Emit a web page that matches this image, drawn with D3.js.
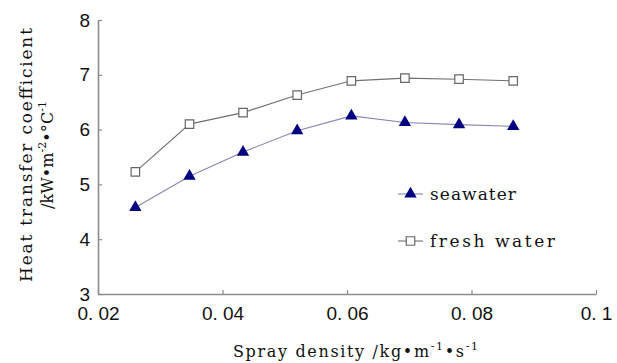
<!DOCTYPE html>
<html>
<head>
<meta charset="utf-8">
<script src="https://cdn.jsdelivr.net/npm/d3@7"></script>
<style>
  body { margin: 0; background: #fff; }
  svg { display: block; }
</style>
</head>
<body>
<div id="chart"></div>
<script>
// spray density (kg/(m.s)) and heat transfer coefficient (kW/(m2.C))
const density = [0.026, 0.0347, 0.0433, 0.052, 0.0607, 0.0693, 0.078, 0.0867];
const seawater = [4.58, 5.15, 5.59, 5.98, 6.25, 6.13, 6.09, 6.06];
const freshWater = [5.23, 6.10, 6.31, 6.63, 6.89, 6.94, 6.92, 6.89];
const xTicks = [0.02, 0.04, 0.06, 0.08, 0.1];
const xTickLabels = ["0. 02", "0. 04", "0. 06", "0. 08", "0. 1"];
const yTicks = [3, 4, 5, 6, 7, 8];

var W = 617, H = 363;
var margin = {top: 20, right: 21, bottom: 69, left: 98},
    width = W - margin.left - margin.right,
    height = H - margin.top - margin.bottom;

var titleFont = "'DejaVu Serif', 'Liberation Serif', serif";
var tickFont = "'Liberation Sans', Arial, sans-serif";

var svg = d3.select("#chart")
    .append("svg")
    .attr("width", W)
    .attr("height", H);

var g = svg.append("g")
    .attr("transform", "translate(" + margin.left + "," + margin.top + ")");

var x = d3.scaleLinear().domain([0.02, 0.1]).range([0, width]);
var y = d3.scaleLinear().domain([3, 8]).range([height, 0]);

// axes, ticks point inward
var xAxis = g.append("g")
    .attr("transform", "translate(0," + height + ")")
    .call(d3.axisBottom(x)
        .tickValues(xTicks)
        .tickFormat((d, i) => xTickLabels[i])
        .tickSizeInner(-4)
        .tickSizeOuter(0)
        .tickPadding(13));

var yAxis = g.append("g")
    .call(d3.axisLeft(y)
        .tickValues(yTicks)
        .tickFormat(d3.format("d"))
        .tickSizeInner(-4)
        .tickSizeOuter(0)
        .tickPadding(8));

[xAxis, yAxis].forEach(a => {
    a.select(".domain").attr("stroke", "#8c8c8c").attr("stroke-width", 1.6);
    a.selectAll(".tick line").attr("stroke", "#8c8c8c").attr("stroke-width", 1.2);
    a.selectAll(".tick text")
        .attr("fill", "#111")
        .style("font-family", tickFont)
        .style("font-size", "19px");
});

var seaData = density.map((d, i) => ({x: d, y: seawater[i]}));
var freshData = density.map((d, i) => ({x: d, y: freshWater[i]}));

var line = d3.line().x(d => x(d.x)).y(d => y(d.y));

g.append("path")
    .datum(freshData)
    .attr("fill", "none")
    .attr("stroke", "#707070")
    .attr("stroke-width", 1.1)
    .attr("d", line);

g.append("path")
    .datum(seaData)
    .attr("fill", "none")
    .attr("stroke", "#8585b5")
    .attr("stroke-width", 1.1)
    .attr("d", line);

var square = d3.symbol().type(d3.symbolSquare).size(72);
var triangle = d3.symbol().type(d3.symbolTriangle).size(66);

g.selectAll(".fresh")
    .data(freshData)
    .enter()
    .append("path")
    .attr("class", "fresh")
    .attr("transform", d => "translate(" + x(d.x) + "," + y(d.y) + ")")
    .attr("d", square)
    .attr("fill", "#fff")
    .attr("stroke", "#666")
    .attr("stroke-width", 1.2);

g.selectAll(".sea")
    .data(seaData)
    .enter()
    .append("path")
    .attr("class", "sea")
    .attr("transform", d => "translate(" + x(d.x) + "," + y(d.y) + ")")
    .attr("d", triangle)
    .attr("fill", "#000080");

// legend
var legendItems = [
    {label: "seawater", stroke: "#8585b5", shape: triangle, fill: "#000080", ms: "none", len: 86},
    {label: "fresh water", stroke: "#707070", shape: square, fill: "#fff", ms: "#666", len: 125}
];

var legend = svg.selectAll(".legend")
    .data(legendItems)
    .enter()
    .append("g")
    .attr("class", "legend")
    .attr("transform", (d, i) => "translate(398," + (194 + i * 47) + ")");

legend.append("line")
    .attr("x1", 0).attr("x2", 25)
    .attr("stroke", d => d.stroke)
    .attr("stroke-width", 1.1);

legend.append("path")
    .attr("transform", "translate(12.5,0)")
    .attr("d", d => d.shape())
    .attr("fill", d => d.fill)
    .attr("stroke", d => d.ms)
    .attr("stroke-width", 1.2);

legend.append("text")
    .attr("x", 32)
    .attr("y", 6)
    .attr("textLength", d => d.len)
    .attr("lengthAdjust", "spacing")
    .style("font-family", titleFont)
    .style("font-size", "17px")
    .attr("fill", "#111")
    .text(d => d.label);

// axis titles
var xt = svg.append("text")
    .attr("x", 233)
    .attr("y", 357)
    .attr("textLength", 245)
    .attr("lengthAdjust", "spacing")
    .style("font-family", titleFont)
    .style("font-size", "16px")
    .attr("fill", "#111");
xt.append("tspan").text("Spray density /kg\u2022m");
xt.append("tspan").attr("dy", -7).style("font-size", "11px").text("-1");
xt.append("tspan").attr("dy", 7).text("\u2022s");
xt.append("tspan").attr("dy", -7).style("font-size", "11px").text("-1");

var yt1 = svg.append("text")
    .attr("transform", "translate(32,155) rotate(-90)")
    .attr("text-anchor", "middle")
    .attr("textLength", 254)
    .attr("lengthAdjust", "spacing")
    .style("font-family", titleFont)
    .style("font-size", "17px")
    .attr("fill", "#111")
    .text("Heat transfer coefficient");

var yt2 = svg.append("text")
    .attr("transform", "translate(53,155) rotate(-90)")
    .attr("text-anchor", "middle")
    .attr("textLength", 108)
    .attr("lengthAdjust", "spacing")
    .style("font-family", titleFont)
    .style("font-size", "16px")
    .attr("fill", "#111");
yt2.append("tspan").text("/kW\u2022m");
yt2.append("tspan").attr("dy", -7).style("font-size", "11px").text("-2");
yt2.append("tspan").attr("dy", 7).text("\u2022\u00b0C");
yt2.append("tspan").attr("dy", -7).style("font-size", "11px").text("-1");
</script>
</body>
</html>
